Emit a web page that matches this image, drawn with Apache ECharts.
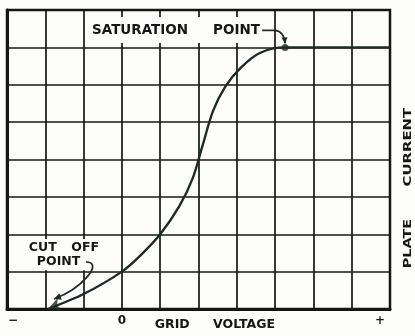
<!DOCTYPE html>
<html>
<head>
<meta charset="utf-8">
<script src="https://cdn.jsdelivr.net/npm/echarts@6/dist/echarts.min.js"></script>
<style>
  html, body { margin: 0; padding: 0; background: #fdfdfb; }
  #chart { width: 415px; height: 336px; }
</style>
</head>
<body>
<div id="chart"></div>
<script>
// Tube characteristic: plate current against grid voltage (arbitrary grid units)
const gridVoltage  = [1.07, 2.00, 3.00, 3.50, 4.00, 4.50, 4.85, 5.10, 5.38, 5.70, 6.10, 6.60, 7.26, 8.50, 10.00];
const plateCurrent = [0.00, 0.40, 1.00, 1.45, 2.00, 2.75, 3.50, 4.35, 5.30, 5.95, 6.45, 6.85, 7.00, 7.00, 7.00];

const saturationPoint = [7.26, 7.0];
const cutOffPoint = [1.07, 0.0];

// Labels under the voltage axis
const xTickValues = [0.16, 3, 9.74];
const xTickLabels = ['−', '0', '+'];

const FONT = '"DejaVu Sans", Verdana, sans-serif';
const INK = '#161616';
const CURVE = '#1d2b23';
const PAPER = '#fdfdfb';

const chart = echarts.init(document.getElementById('chart'), null, { renderer: 'canvas' });

chart.setOption({
  animation: false,
  backgroundColor: PAPER,
  grid: {
    left: 7, right: 25, top: 10, bottom: 27,
    show: true, borderColor: INK, borderWidth: 2.5, backgroundColor: 'transparent'
  },
  xAxis: {
    type: 'value', min: 0, max: 10, interval: 1,
    axisLine: { show: true, lineStyle: { color: INK, width: 3 } },
    axisTick: { show: false },
    splitLine: { show: true, lineStyle: { color: INK, width: 1.7 } },
    axisLabel: {
      customValues: xTickValues,
      formatter: function (v) {
        let best = 0;
        xTickValues.forEach(function (t, i) {
          if (Math.abs(t - v) < Math.abs(xTickValues[best] - v)) best = i;
        });
        return xTickLabels[best];
      },
      color: INK, fontSize: 12, fontWeight: 'bold', fontFamily: FONT, margin: 6
    }
  },
  yAxis: {
    type: 'value', min: 0, max: 8, interval: 1,
    axisLine: { show: true, lineStyle: { color: INK, width: 3 } },
    axisTick: { show: false },
    axisLabel: { show: false },
    splitLine: { show: true, lineStyle: { color: INK, width: 1.7 } }
  },
  series: [
    {
      name: 'Plate current',
      type: 'line',
      data: gridVoltage.map(function (x, i) { return [x, plateCurrent[i]]; }),
      smooth: 0.3,
      symbol: 'none',
      lineStyle: { color: CURVE, width: 2.4 },
      z: 3
    },
    {
      name: 'Saturation point',
      type: 'scatter',
      data: [saturationPoint],
      symbol: 'circle', symbolSize: 7,
      itemStyle: { color: CURVE },
      z: 4
    },
    {
      name: 'Cut off point',
      type: 'scatter',
      data: [cutOffPoint],
      symbol: 'arrow', symbolSize: [10, 13], symbolRotate: 111,
      itemStyle: { color: CURVE },
      z: 4
    }
  ]
});

// Annotation layer, placed from axis coordinates
function px(p) { return chart.convertToPixel({ xAxisIndex: 0, yAxisIndex: 0 }, p); }

function whiteBox(x0, y0, x1, y1) {
  const a = px([x0, y0]), b = px([x1, y1]);
  return {
    type: 'rect', z: 20,
    shape: { x: Math.min(a[0], b[0]), y: Math.min(a[1], b[1]), width: Math.abs(b[0] - a[0]), height: Math.abs(b[1] - a[1]) },
    style: { fill: PAPER }
  };
}

function note(text, at, size, extra) {
  const p = px(at);
  return Object.assign({
    type: 'text', z: 30, x: p[0], y: p[1],
    style: { text: text, font: 'bold ' + size + 'px ' + FONT, fill: INK, align: 'left', verticalAlign: 'middle' }
  }, extra || {});
}

function arrowHead(tip, from, len, half) {
  const dx = tip[0] - from[0], dy = tip[1] - from[1];
  const d = Math.sqrt(dx * dx + dy * dy) || 1;
  const ux = dx / d, uy = dy / d;
  const bx = tip[0] - ux * len, by = tip[1] - uy * len;
  return {
    type: 'polygon', z: 31,
    shape: { points: [tip, [bx - uy * half, by + ux * half], [bx + uy * half, by - ux * half]] },
    style: { fill: CURVE }
  };
}

function stroke(el) {
  el.z = 31;
  el.style = { stroke: CURVE, lineWidth: 1.7, fill: null };
  return el;
}

const sat = px(saturationPoint);
const cut = px(cutOffPoint);
const right = px([10, 0])[0];

// saturation pointer: short run to the right, then a hook down onto the dot
const s0 = [sat[0] - 23, sat[1] - 17];
const s1 = [sat[0] - 10, sat[1] - 17];
const sc = [sat[0] - 1, sat[1] - 16];
const sTip = [sat[0], sat[1] - 4];

// cut-off pointer: curls from the label down towards the end of the curve
const c0 = [cut[0] + 38, cut[1] - 47];
const c1 = [cut[0] + 56, cut[1] - 47];
const c2 = [cut[0] + 35, cut[1] - 21];
const cTip = [cut[0] + 6, cut[1] - 10];

const graphics = [
  whiteBox(2.09, 7.81, 6.66, 7.12),
  whiteBox(0.44, 1.87, 2.58, 1.04),

  note('SATURATION', [2.22, 7.46], 13.5),
  note('POINT', [5.38, 7.46], 13.5),
  note('CUT', [0.57, 1.63], 12.5),
  note('OFF', [1.68, 1.63], 12.5),
  note('POINT', [0.78, 1.27], 12.5),
  note('GRID', [3.86, -0.43], 12.5),
  note('VOLTAGE', [5.38, -0.43], 12.5),

  {
    type: 'text', z: 30, x: right + 18, y: px([0, 1.75])[1], rotation: Math.PI / 2, scaleX: 1.3,
    style: { text: 'PLATE', font: 'bold 11px ' + FONT, fill: INK, align: 'center', verticalAlign: 'middle' }
  },
  {
    type: 'text', z: 30, x: right + 18, y: px([0, 4.33])[1], rotation: Math.PI / 2, scaleX: 1.35,
    style: { text: 'CURRENT', font: 'bold 11px ' + FONT, fill: INK, align: 'center', verticalAlign: 'middle' }
  },

  stroke({ type: 'line', shape: { x1: s0[0], y1: s0[1], x2: s1[0], y2: s1[1] } }),
  stroke({ type: 'bezierCurve', shape: { x1: s1[0], y1: s1[1], cpx1: sc[0], cpy1: sc[1], x2: sTip[0], y2: sTip[1] } }),
  arrowHead(sTip, sc, 6, 3),

  stroke({ type: 'bezierCurve', shape: { x1: c0[0], y1: c0[1], cpx1: c1[0], cpy1: c1[1], cpx2: c2[0], cpy2: c2[1], x2: cTip[0], y2: cTip[1] } }),
  arrowHead(cTip, c2, 7, 3.5)
];

chart.setOption({ graphic: graphics });
</script>
</body>
</html>
